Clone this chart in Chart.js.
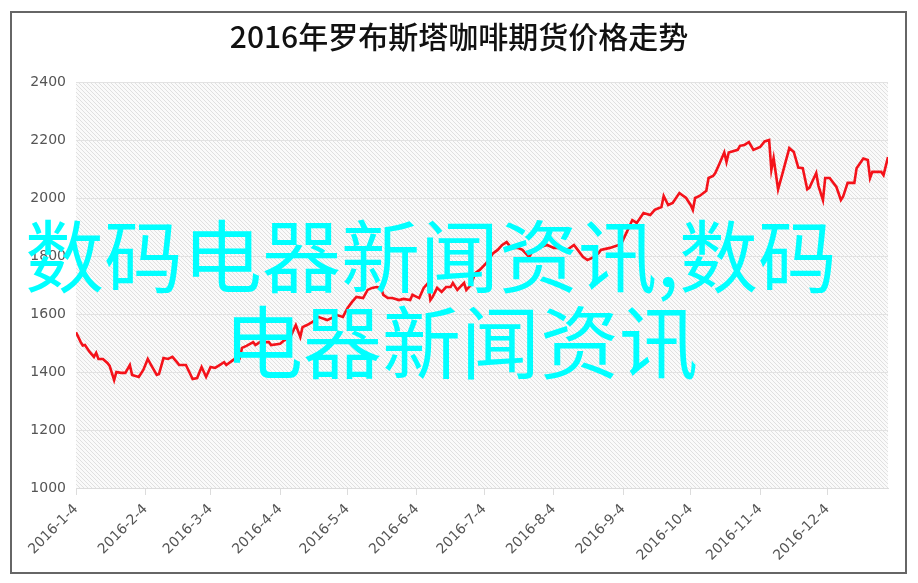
<!DOCTYPE html>
<html>
<head>
<meta charset="utf-8">
<script src="https://cdn.jsdelivr.net/npm/chart.js@4.4.1/dist/chart.umd.min.js"></script>
<style>
  html, body { margin: 0; padding: 0; background: #fff; }
  #wrap { position: relative; width: 918px; height: 583px; }
  #frame {
    position: absolute; left: 10px; top: 11px; width: 893px; height: 559px;
    border: 2px solid #666; pointer-events: none;
  }
  .mark {
    position: absolute; color: #00ffff; font-family: "Noto Sans CJK SC", sans-serif;
    font-size: 79px; line-height: 1; white-space: nowrap; pointer-events: none;
  }
</style>
</head>
<body>
<div id="wrap">
  <canvas id="priceChart"></canvas>
  <div id="frame"></div>
  <div class="mark" style="left:25px; top:213px;">数码电器新闻资讯,数码</div>
  <div class="mark" style="left:224px; top:299px;">电器新闻资讯</div>
</div>
<script>
const YEAR = 2016;
const chartTitle = "2016年罗布斯塔咖啡期货价格走势";

// x axis ticks (the 4th of every month)
const tickLabels = ["2016-1-4", "2016-2-4", "2016-3-4", "2016-4-4", "2016-5-4", "2016-6-4",
  "2016-7-4", "2016-8-4", "2016-9-4", "2016-10-4", "2016-11-4", "2016-12-4"];

// price series (month-day)
const priceDates = [
  "1-4", "1-6", "1-7", "1-8", "1-10", "1-12", "1-13", "1-14", "1-16", "1-18", "1-19", "1-21", "1-22", "1-24", "1-26", "1-28", "1-29",
  "2-1", "2-3", "2-5", "2-7", "2-9", "2-10", "2-12", "2-14", "2-16", "2-18", "2-19", "2-22", "2-25", "2-27", "2-29",
  "3-2", "3-4", "3-6", "3-8", "3-10", "3-11", "3-14", "3-16", "3-17", "3-18", "3-20", "3-23", "3-24", "3-26", "3-30", "3-31",
  "4-4", "4-6", "4-9", "4-11", "4-13", "4-14", "4-16", "4-19", "4-21", "4-25", "4-28", "4-29",
  "5-2", "5-4", "5-6", "5-8", "5-11", "5-13", "5-15", "5-17", "5-19", "5-20", "5-22", "5-24", "5-27", "5-29",
  "6-1", "6-2", "6-5", "6-7", "6-9", "6-10", "6-11", "6-13", "6-15", "6-17", "6-19", "6-20", "6-22", "6-25", "6-26", "6-28", "6-30",
  "7-2", "7-5", "7-8", "7-10", "7-12", "7-14", "7-16", "7-19", "7-21", "7-24", "7-26", "7-29",
  "8-1", "8-4", "8-7", "8-10", "8-13", "8-14", "8-17", "8-19", "8-22", "8-24", "8-25", "8-29",
  "9-3", "9-6", "9-8", "9-10", "9-13", "9-16", "9-18", "9-21", "9-22", "9-24", "9-26", "9-29",
  "10-2", "10-4", "10-5", "10-6", "10-8", "10-11", "10-12", "10-14", "10-15", "10-17", "10-19", "10-20", "10-21", "10-25", "10-26", "10-28", "10-30",
  "11-1", "11-4", "11-6", "11-8", "11-9", "11-10", "11-12", "11-14", "11-17", "11-19", "11-21", "11-23", "11-25", "11-26", "11-29", "11-30",
  "12-2", "12-3", "12-5", "12-8", "12-10", "12-11", "12-13", "12-16", "12-17", "12-20", "12-22", "12-23", "12-24", "12-28", "12-29", "12-31"
];
const prices = [
  1537, 1505, 1491, 1493, 1470, 1452, 1466, 1445, 1445, 1431, 1421, 1372, 1400, 1397, 1397, 1424, 1390,
  1383, 1407, 1445, 1417, 1390, 1393, 1448, 1445, 1452, 1434, 1424, 1424, 1376, 1379, 1417,
  1383, 1417, 1414, 1424, 1434, 1424, 1441, 1452, 1448, 1483, 1490, 1503, 1493, 1503, 1503, 1493,
  1497, 1510, 1528, 1562, 1521, 1555, 1562, 1575, 1590, 1579, 1590, 1597,
  1590, 1620, 1641, 1659, 1655, 1683, 1690, 1693, 1690, 1666, 1655, 1655, 1648, 1652,
  1648, 1666, 1655, 1690, 1707, 1648, 1659, 1690, 1676, 1693, 1693, 1707, 1683, 1707, 1683, 1700, 1741,
  1752, 1776, 1810, 1821, 1838, 1848, 1828, 1828, 1821, 1797, 1821, 1831,
  1838, 1828, 1828, 1821, 1838, 1828, 1797, 1786, 1797, 1810, 1821, 1828,
  1841, 1890, 1924, 1914, 1948, 1941, 1959, 1969, 2007, 1976, 1983, 2017,
  2000, 1976, 1959, 2000, 2007, 2025, 2069, 2076, 2086, 2121, 2157, 2124, 2157, 2166, 2180, 2183, 2193,
  2166, 2176, 2195, 2200, 2097, 2138, 2030, 2086, 2172, 2159, 2105, 2103, 2030, 2036, 2086, 2042,
  1993, 2069, 2069, 2038, 1993, 2005, 2052, 2052, 2103, 2136, 2131, 2069, 2090, 2090, 2079, 2141
];

function dayOfYear(month, day) {
  return Math.round((new Date(YEAR, month - 1, day) - new Date(YEAR, 0, 1)) / 86400000);
}

const tickDays = tickLabels.map(t => {
  const p = t.split("-");
  return dayOfYear(+p[1], +p[2]);
});
const points = priceDates.map((d, i) => {
  const p = d.split("-");
  return { x: dayOfYear(+p[0], +p[1]), y: prices[i] };
});

// fine diagonal hatch behind the plot
function makeHatch() {
  const c = document.createElement("canvas");
  c.width = 4; c.height = 4;
  const g = c.getContext("2d");
  g.fillStyle = "#fafafa";
  g.fillRect(0, 0, 4, 4);
  g.strokeStyle = "#e0e0e0";
  g.lineWidth = 1;
  g.beginPath();
  g.moveTo(-1, -1); g.lineTo(5, 5);
  g.moveTo(-1, 3); g.lineTo(1, 5);
  g.moveTo(3, -1); g.lineTo(5, 1);
  g.stroke();
  return c;
}

const hatchPlugin = {
  id: "hatch",
  beforeDraw(chart) {
    const { ctx, chartArea: a } = chart;
    ctx.save();
    ctx.fillStyle = ctx.createPattern(makeHatch(), "repeat");
    ctx.fillRect(a.left, a.top, a.right - a.left, a.bottom - a.top);
    ctx.restore();
  }
};

new Chart(document.getElementById("priceChart"), {
  type: "line",
  data: {
    datasets: [{
      data: points,
      borderColor: "#f4121a",
      borderWidth: 2.6,
      pointRadius: 0,
      tension: 0,
      fill: false
    }]
  },
  options: {
    responsive: true,
    maintainAspectRatio: false,
    animation: false,
    layout: { padding: { left: 30, right: 30, top: 12, bottom: 10 } },
    plugins: {
      legend: { display: false },
      tooltip: { enabled: false },
      title: {
        display: true,
        text: chartTitle,
        color: "#111",
        font: { family: "'Noto Sans CJK SC', sans-serif", size: 30, weight: "500" },
        padding: { top: 7, bottom: 27 }
      }
    },
    scales: {
      x: {
        type: "linear",
        min: tickDays[0],
        max: 365,
        afterBuildTicks: axis => { axis.ticks = tickDays.map(v => ({ value: v })); },
        afterFit: axis => { axis.height = 85; },
        ticks: {
          autoSkip: false,
          maxRotation: 45,
          minRotation: 45,
          padding: 6,
          color: "#555",
          font: { family: "'DejaVu Sans', sans-serif", size: 14 },
          callback: v => tickLabels[tickDays.indexOf(v)]
        },
        grid: { drawOnChartArea: false, drawTicks: true, tickLength: 7, color: "#dcdcdc" },
        border: { color: "#dcdcdc" }
      },
      y: {
        min: 1000,
        max: 2400,
        afterFit: axis => { axis.width = 46; },
        ticks: {
          stepSize: 200,
          padding: 10,
          color: "#555",
          font: { family: "'DejaVu Sans', sans-serif", size: 14 },
          callback: v => String(v)
        },
        grid: { color: "#e2e2e2", drawTicks: false },
        border: { display: false }
      }
    }
  },
  plugins: [hatchPlugin]
});
</script>
</body>
</html>
